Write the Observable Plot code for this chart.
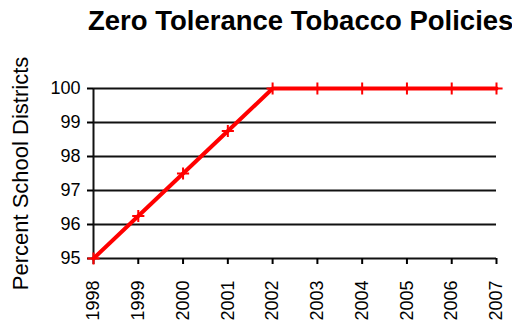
<!DOCTYPE html>
<html>
<head>
<meta charset="utf-8">
<script src="https://cdn.jsdelivr.net/npm/d3@7"></script>
<script src="https://cdn.jsdelivr.net/npm/@observablehq/plot@0.6"></script>
<style>
  body { margin: 0; background: #fff; }
  #chart { position: relative; width: 512px; height: 322px; overflow: hidden;
           font-family: "Liberation Sans", Arial, Helvetica, sans-serif; }
  #title { position: relative; height: 40px; }
  #title span { position: absolute; left: 88px; top: 7px; white-space: nowrap;
                font-weight: bold; font-size: 27.5px; line-height: 1; color: #000; }
  #chart svg { display: block; }
</style>
</head>
<body>
<div id="chart">
  <div id="title"><span>Zero Tolerance Tobacco Policies</span></div>
</div>
<script>
// Share of school districts with a zero tolerance tobacco policy, by year
const years = [1998, 1999, 2000, 2001, 2002, 2003, 2004, 2005, 2006, 2007];
const percent = [95, 96.25, 97.5, 98.75, 100, 100, 100, 100, 100, 100];
const yTicks = [95, 96, 97, 98, 99, 100];
const gridValues = [96, 97, 98, 99, 100];

const rows = years.map((year, i) => ({ year, value: percent[i] }));

const chart = Plot.plot({
  width: 512,
  height: 282,
  marginTop: 48,
  marginBottom: 64,
  marginLeft: 93,
  marginRight: 16,
  style: { fontFamily: "'Liberation Sans', Arial, Helvetica, sans-serif", color: "#000", background: "#fff" },
  x: { domain: [years[0], years[years.length - 1]] },
  y: { domain: [yTicks[0], yTicks[yTicks.length - 1]] },
  marks: [
    // horizontal gridlines
    Plot.ruleY(gridValues, { stroke: "#111", strokeWidth: 2 }),
    // axis lines
    Plot.ruleY([yTicks[0]], { stroke: "#111", strokeWidth: 2 }),
    Plot.ruleX([years[0]], { stroke: "#111", strokeWidth: 2 }),
    Plot.axisY({
      ticks: yTicks,
      tickFormat: d3.format("d"),
      tickSize: 6,
      tickPadding: 7,
      strokeWidth: 2,
      fontSize: 18,
      label: "Percent School Districts",
      labelAnchor: "center",
      labelArrow: "none",
      labelOffset: 81
    }),
    Plot.axisX({
      ticks: years,
      tickFormat: d3.format("d"),
      tickSize: 6,
      tickPadding: 16,
      strokeWidth: 2,
      tickRotate: -90,
      fontSize: 18,
      label: null
    }),
    Plot.line(rows, { x: "year", y: "value", stroke: "#ff0000", strokeWidth: 4 }),
    Plot.dot(rows, { x: "year", y: "value", symbol: "plus", r: 4, stroke: "#ff0000", strokeWidth: 2 })
  ]
});

// enlarge the y axis title
chart.querySelectorAll("[aria-label='y-axis label'] text").forEach(t => t.setAttribute("font-size", 22));

document.getElementById("chart").appendChild(chart);
</script>
</body>
</html>
